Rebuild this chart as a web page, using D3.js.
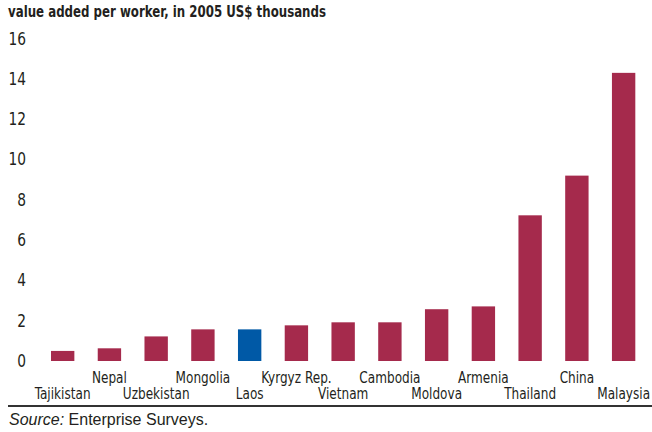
<!DOCTYPE html>
<html>
<head>
<meta charset="utf-8">
<script src="https://cdn.jsdelivr.net/npm/d3@7"></script>
<style>
  body { margin: 0; background: #fff; }
  svg text { fill: #231f20; }
</style>
</head>
<body>
<div class="plot"></div>
<script>
// chart data
var countries = ["Tajikistan", "Nepal", "Uzbekistan", "Mongolia", "Laos", "Kyrgyz Rep.",
  "Vietnam", "Cambodia", "Moldova", "Armenia", "Thailand", "China", "Malaysia"];
var values = [0.5, 0.63, 1.22, 1.57, 1.57, 1.77, 1.92, 1.92, 2.57, 2.71, 7.23, 9.2, 14.3];
var highlight = "Laos";
var y_ticks = [0, 2, 4, 6, 8, 10, 12, 14, 16];

var width = 652, height = 432;
var narrow = "'Liberation Sans Narrow', 'DejaVu Sans Condensed', sans-serif";
var squeeze = 0.84; // the reference face is narrower than what we have

var svg = d3.select(".plot")
  .append("svg")
  .attr("width", width)
  .attr("height", height);

// scales
var x = d3.scaleBand()
  .domain(countries)
  .range([39.3, 647])
  .paddingInner(0.5)
  .paddingOuter(0.25);

var y = d3.scaleLinear()
  .domain([0, 16])
  .range([361, 38.6]);

// y axis, labels only
var yAxis = svg.append("g")
  .attr("transform", "translate(26,0)")
  .call(d3.axisLeft(y).tickValues(y_ticks).tickSize(0).tickPadding(0));
yAxis.select(".domain").remove();
yAxis.selectAll("text")
  .attr("transform", "scale(0.9,1)")
  .style("font-family", narrow)
  .style("font-size", "17px")
  .attr("fill", "#231f20");

// bars
svg.append("g")
  .selectAll("rect")
  .data(countries)
  .enter()
  .append("rect")
    .attr("x", function(d) { return x(d); })
    .attr("y", function(d, i) { return y(values[i]); })
    .attr("width", x.bandwidth())
    .attr("height", function(d, i) { return y(0) - y(values[i]); })
    .style("fill", function(d) { return d == highlight ? "#0059a6" : "#a52a4c"; });

// category labels, staggered on two rows
svg.append("g")
  .selectAll("text")
  .data(countries)
  .enter()
  .append("text")
    .attr("transform", function(d, i) {
      var cx = x(d) + x.bandwidth() / 2;
      if (i == countries.length - 1) cx = Math.min(cx, 651 - 27);
      return "translate(" + cx + "," + (i % 2 == 1 ? 383 : 399) + ") scale(" + squeeze + ",1)";
    })
    .attr("text-anchor", "middle")
    .style("font-family", narrow)
    .style("font-size", "16px")
    .text(function(d) { return d; });

// title
svg.append("text")
  .attr("transform", "translate(8,17) scale(0.875,1)")
  .style("font-family", narrow)
  .style("font-weight", "bold")
  .style("font-size", "15px")
  .text("value added per worker, in 2005 US$ thousands");

// bottom rule
svg.append("line")
  .attr("x1", 8).attr("x2", 652)
  .attr("y1", 406).attr("y2", 406)
  .style("stroke", "#333")
  .style("stroke-width", 2);

// source note
var src = svg.append("text")
  .attr("x", 9)
  .attr("y", 425)
  .style("font-family", "'Liberation Sans', Arial, sans-serif")
  .style("font-size", "16px");
src.append("tspan").style("font-style", "italic").text("Source:");
src.append("tspan").text(" Enterprise Surveys.");
</script>
</body>
</html>
